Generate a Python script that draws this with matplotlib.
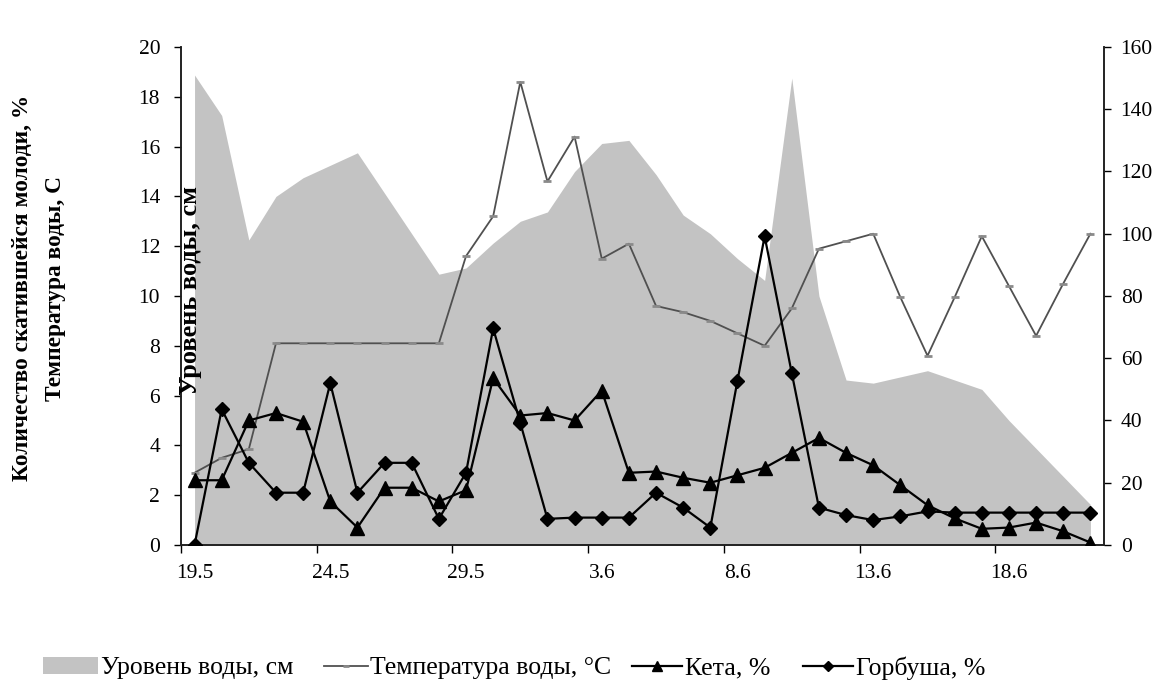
import matplotlib
matplotlib.use("Agg")
import matplotlib.pyplot as plt
from matplotlib.lines import Line2D
from matplotlib.patches import Patch
import numpy as np

dates = ['19.5', '20.5', '21.5', '22.5', '23.5', '24.5', '25.5', '26.5', '27.5', '28.5',
         '29.5', '30.5', '31.5', '1.6', '2.6', '3.6', '4.6', '5.6', '6.6', '7.6',
         '8.6', '9.6', '10.6', '11.6', '12.6', '13.6', '14.6', '15.6', '16.6', '17.6',
         '18.6', '19.6', '20.6', '21.6']

water_level = [151, 138, 98, 112, 118, 122, 126, 113, 100, 87,
               89, 97, 104, 107, 120, 129, 130, 119, 106, 100,
               92, 85, 150, 80, 53, 52, 54, 56, 53, 50,
               40, 31, 22, 13]

temperature = [2.9, 3.5, 3.85, 8.1, 8.1, 8.1, 8.1, 8.1, 8.1, 8.1,
               11.6, 13.2, 18.6, 14.6, 16.4, 11.5, 12.1, 9.6, 9.35, 9.0,
               8.5, 8.0, 9.5, 11.9, 12.2, 12.5, 9.95, 7.6, 9.95, 12.4,
               10.4, 8.4, 10.5, 12.5]

keta = [2.6, 2.6, 5.0, 5.3, 4.95, 1.75, 0.7, 2.3, 2.3, 1.75,
        2.2, 6.7, 5.2, 5.3, 5.0, 6.2, 2.9, 2.95, 2.7, 2.5,
        2.8, 3.1, 3.7, 4.3, 3.7, 3.2, 2.4, 1.6, 1.07, 0.65,
        0.7, 0.9, 0.55, 0.1]

gorbusha = [0.0, 5.45, 3.3, 2.1, 2.1, 6.5, 2.1, 3.3, 3.3, 1.05,
            2.9, 8.7, 4.9, 1.05, 1.1, 1.1, 1.1, 2.1, 1.5, 0.7,
            6.6, 12.4, 6.9, 1.5, 1.2, 1.0, 1.15, 1.35, 1.3, 1.3,
            1.3, 1.3, 1.3, 1.3]

left_ticks = list(range(0, 21, 2))
right_ticks = list(range(0, 161, 20))

serif = ['Liberation Serif', 'DejaVu Serif']
plt.rcParams['font.family'] = serif

AREA_COLOR = '#c3c3c3'
TEMP_COLOR = '#505050'

fig = plt.figure(figsize=(11.6, 6.91), dpi=100)
ax = fig.add_axes([0.156, 0.2113, 0.7957, 0.7207])
ax2 = ax.twinx()

x = np.arange(len(dates))

# water level area on right axis
ax2.fill_between(x, 0, water_level, color=AREA_COLOR, linewidth=0, zorder=1)
ax2.set_ylim(0, 160)
ax2.set_yticks(right_ticks)
ax2.tick_params(axis='y', direction='out', length=5, width=1, labelsize=15.5, pad=7)

ax.set_zorder(ax2.get_zorder() + 1)
ax.patch.set_visible(False)

ax.plot(x, temperature, color=TEMP_COLOR, linewidth=1.3, marker='_', markersize=6,
        markeredgewidth=2, markeredgecolor='#8a8a8a', zorder=3)
ax.plot(x, keta, color='black', linewidth=1.6, marker='^', markersize=10, zorder=4)
ax.plot(x, gorbusha, color='black', linewidth=1.6, marker='D', markersize=7, zorder=5)

ax.set_xlim(-0.5, len(dates) - 0.5)
ax.set_ylim(0, 20)
ax.set_yticks(left_ticks)
ax.tick_params(axis='y', direction='out', length=5, width=1, labelsize=15.5, pad=10)

ax.set_xticks(x[::5])
ax.set_xticklabels(dates[::5])
ax.set_xticks(np.arange(-0.5, len(dates), 5), minor=True)
ax.tick_params(axis='x', which='major', length=0, labelsize=15.5, pad=14)
ax.tick_params(axis='x', which='minor', direction='out', length=6, width=1)

for a in (ax, ax2):
    a.spines['top'].set_visible(False)
    for s in ('left', 'right', 'bottom'):
        a.spines[s].set_linewidth(1.2)
        a.spines[s].set_color('#222222')

fig.text(0.019, 0.583, 'Количество скатившейся молоди, %', rotation=90,
         ha='center', va='center', fontsize=16.8, fontweight='bold')
fig.text(0.048, 0.583, 'Температура воды, С', rotation=90,
         ha='center', va='center', fontsize=16.8, fontweight='bold')
fig.text(0.164, 0.579, 'Уровень воды, см', rotation=90,
         ha='center', va='center', fontsize=19, fontweight='bold')

# legend entries placed individually
legend_items = [
    (Patch(facecolor=AREA_COLOR, edgecolor='none'), 'Уровень воды, см', 43, 2.15),
    (Line2D([], [], color=TEMP_COLOR, linewidth=1.3, marker='_', markersize=5,
            markeredgewidth=2, markeredgecolor='#8a8a8a'), 'Температура воды, °С', 324, 1.7),
    (Line2D([], [], color='black', linewidth=1.6, marker='^', markersize=7), 'Кета, %', 632, 1.95),
    (Line2D([], [], color='black', linewidth=1.6, marker='D', markersize=5.5), 'Горбуша, %', 803, 1.95),
]
for h, lab, x0, hl in legend_items:
    fig.legend([h], [lab], loc='center left', bbox_to_anchor=(x0 / 1160, 1 - 668 / 691),
               frameon=False, fontsize=18.5, handlelength=hl, handletextpad=0.1,
               borderpad=0, borderaxespad=0)

fig.savefig('out.png', dpi=100, facecolor='white')
